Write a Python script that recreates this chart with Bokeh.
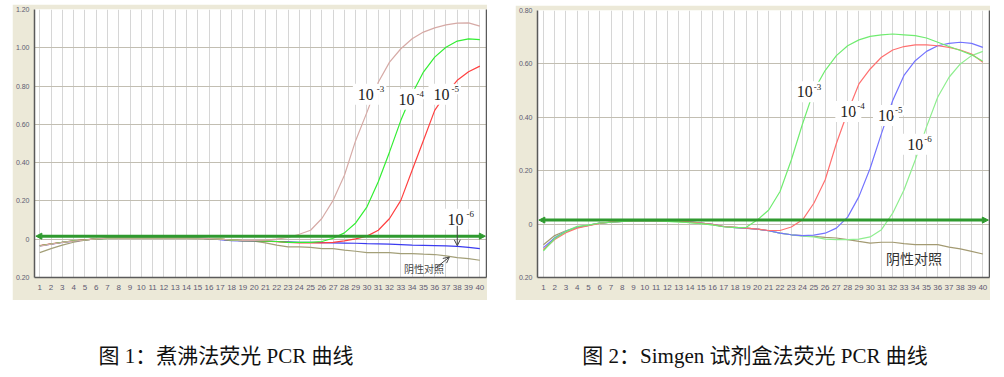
from bokeh.plotting import figure
from bokeh.models import (FixedTicker, CustomJSTickFormatter, Label, Arrow, NormalHead,
                          OpenHead, LinearAxis, Range1d, Div)
from bokeh.layouts import row, column
from bokeh.embed import file_html
from bokeh.resources import INLINE

cycles = list(range(1, 41))

# ---- Figure 1 (boiling method) ----
l_e3 = [-0.036, -0.026, -0.017, -0.010, -0.004, 0.002, 0.005, 0.006, 0.006, 0.006,
        0.006, 0.006, 0.006, 0.006, 0.005, 0.003, 0.000, -0.004, -0.006, -0.006,
        -0.005, 0.000, 0.009, 0.026, 0.047, 0.108, 0.203, 0.334, 0.516, 0.664,
        0.820, 0.925, 0.995, 1.047, 1.082, 1.104, 1.120, 1.129, 1.130, 1.113]
l_e4 = [-0.034, -0.025, -0.016, -0.009, -0.004, 0.002, 0.004, 0.005, 0.006, 0.006,
        0.006, 0.006, 0.006, 0.005, 0.005, 0.003, 0.000, -0.005, -0.007, -0.008,
        -0.010, -0.012, -0.016, -0.017, -0.017, -0.012, 0.005, 0.033, 0.085, 0.169,
        0.300, 0.456, 0.621, 0.760, 0.873, 0.951, 1.003, 1.035, 1.047, 1.043]
l_e5 = [-0.033, -0.024, -0.016, -0.009, -0.003, 0.002, 0.006, 0.006, 0.006, 0.006,
        0.006, 0.006, 0.006, 0.006, 0.005, 0.003, 0.000, -0.005, -0.007, -0.008,
        -0.010, -0.013, -0.016, -0.019, -0.019, -0.019, -0.017, -0.009, 0.002, 0.016,
        0.047, 0.108, 0.203, 0.360, 0.516, 0.673, 0.760, 0.830, 0.875, 0.904]
l_e6 = [-0.035, -0.026, -0.017, -0.010, -0.004, 0.002, 0.005, 0.006, 0.006, 0.006,
        0.006, 0.004, 0.005, 0.006, 0.006, 0.003, -0.002, -0.008, -0.009, -0.009,
        -0.010, -0.012, -0.014, -0.016, -0.017, -0.018, -0.019, -0.020, -0.021, -0.023,
        -0.024, -0.026, -0.028, -0.031, -0.032, -0.033, -0.035, -0.037, -0.043, -0.049]
l_neg = [-0.070, -0.049, -0.031, -0.016, -0.005, 0.003, 0.004, 0.005, 0.005, 0.005,
         0.005, 0.005, 0.004, 0.004, 0.003, 0.002, 0.000, -0.005, -0.007, -0.010,
         -0.019, -0.031, -0.040, -0.040, -0.043, -0.049, -0.049, -0.057, -0.063, -0.070,
         -0.070, -0.070, -0.075, -0.075, -0.078, -0.080, -0.087, -0.096, -0.101, -0.110]
l_threshold = 0.016

# ---- Figure 2 (Simgen kit) ----
r_e3 = [-0.100, -0.055, -0.028, -0.010, -0.004, 0.004, 0.007, 0.010, 0.012, 0.012,
        0.012, 0.010, 0.008, 0.005, 0.002, -0.003, -0.010, -0.013, -0.012, 0.016,
        0.053, 0.122, 0.240, 0.376, 0.500, 0.575, 0.631, 0.668, 0.690, 0.703,
        0.709, 0.712, 0.709, 0.706, 0.697, 0.681, 0.665, 0.650, 0.634, 0.610]
r_e4 = [-0.095, -0.058, -0.032, -0.015, -0.006, 0.003, 0.008, 0.010, 0.012, 0.012,
        0.012, 0.011, 0.010, 0.008, 0.004, -0.001, -0.009, -0.012, -0.015, -0.019,
        -0.024, -0.024, -0.011, 0.016, 0.078, 0.165, 0.302, 0.420, 0.525, 0.581,
        0.625, 0.652, 0.665, 0.671, 0.671, 0.668, 0.662, 0.652, 0.637, 0.606]
r_e5 = [-0.088, -0.052, -0.027, -0.012, -0.005, 0.004, 0.007, 0.010, 0.012, 0.012,
        0.012, 0.011, 0.011, 0.009, 0.004, -0.001, -0.009, -0.013, -0.016, -0.019,
        -0.025, -0.034, -0.040, -0.043, -0.041, -0.034, -0.015, 0.026, 0.103, 0.209,
        0.339, 0.463, 0.557, 0.612, 0.647, 0.668, 0.677, 0.681, 0.677, 0.662]
r_e6 = [-0.098, -0.050, -0.026, -0.008, -0.004, 0.004, 0.007, 0.010, 0.012, 0.012,
        0.012, 0.010, 0.008, 0.005, 0.002, -0.003, -0.010, -0.012, -0.015, -0.019,
        -0.025, -0.034, -0.040, -0.045, -0.048, -0.056, -0.058, -0.058, -0.056, -0.048,
        -0.021, 0.041, 0.128, 0.240, 0.364, 0.476, 0.550, 0.600, 0.631, 0.647]
r_neg = [-0.077, -0.043, -0.025, -0.012, -0.005, 0.004, 0.007, 0.010, 0.012, 0.012,
         0.012, 0.011, 0.010, 0.007, 0.004, -0.001, -0.009, -0.012, -0.015, -0.019,
         -0.025, -0.034, -0.040, -0.043, -0.046, -0.050, -0.052, -0.058, -0.065, -0.071,
         -0.068, -0.068, -0.073, -0.077, -0.077, -0.077, -0.086, -0.093, -0.102, -0.112]
r_threshold = 0.015

y_ticks_left = [-0.2, 0.0, 0.2, 0.4, 0.6, 0.8, 1.0, 1.2]
y_ticks_right = [-0.2, 0.0, 0.2, 0.4, 0.6, 0.8]

caption_left = "图 1：煮沸法荧光 PCR 曲线"
caption_right = "图 2：Simgen 试剂盒法荧光 PCR 曲线"

BEIGE = "#ece9d8"
DARK = "#5a5a5a"
TICKCOL = "#5e5a72"
SERIF = "Liberation Serif"


def make_fig(xr, yr, yticks, margin, height, left_b, bottom_b):
    p = figure(width=475, height=height, x_range=Range1d(*xr), y_range=Range1d(*yr),
               output_backend="svg", toolbar_location=None, margin=margin,
               min_border_left=left_b, min_border_right=1, min_border_top=5,
               min_border_bottom=bottom_b)
    p.border_fill_color = BEIGE
    p.background_fill_color = "white"
    p.outline_line_color = None
    xa = p.xaxis[0]
    xa.ticker = FixedTicker(ticks=cycles)
    xa.major_tick_out = 0
    xa.major_tick_in = 0
    xa.minor_tick_out = 0
    xa.minor_tick_in = 0
    xa.major_label_standoff = 7
    xa.major_label_text_font = "Liberation Sans"
    xa.major_label_text_font_size = "8px"
    xa.major_label_text_color = TICKCOL
    xa.axis_line_color = DARK
    xa.axis_line_width = 1.5
    ya = p.yaxis[0]
    ya.ticker = FixedTicker(ticks=yticks)
    ya.formatter = CustomJSTickFormatter(
        code="return Math.abs(tick) < 1e-9 ? '0' : Math.abs(tick).toFixed(2);")
    ya.major_tick_out = 0
    ya.major_tick_in = 0
    ya.minor_tick_out = 0
    ya.minor_tick_in = 0
    ya.major_label_standoff = 5
    ya.major_label_text_font = "Liberation Sans"
    ya.major_label_text_font_size = "7px"
    ya.major_label_text_color = TICKCOL
    ya.axis_line_color = DARK
    ya.axis_line_width = 1.5
    p.xgrid.ticker = FixedTicker(ticks=cycles)
    p.xgrid.grid_line_color = "#d6d6d6"
    p.ygrid.ticker = FixedTicker(ticks=yticks)
    p.ygrid.grid_line_color = "#c2beb2"
    ra = LinearAxis(ticker=FixedTicker(ticks=[]), major_label_text_font_size="0px",
                    major_tick_out=0, major_tick_in=0, minor_tick_out=0, minor_tick_in=0,
                    major_label_standoff=0, axis_line_color=DARK, axis_line_width=1.5)
    p.add_layout(ra, "right")
    return p


def threshold(p, xr, y):
    p.add_layout(Arrow(x_start=xr[0] + 0.12, y_start=y, x_end=xr[1] - 0.1, y_end=y,
                       line_color="#2f9a2f", line_width=3,
                       start=NormalHead(size=6, fill_color="#2f9a2f", line_color="#2f9a2f"),
                       end=NormalHead(size=6, fill_color="#2f9a2f", line_color="#2f9a2f")))


def exp_label(p, x, y, exp, size=16, sup_dx=11, sup_dy=5):
    p.add_layout(Label(x=x, y=y, text="10", text_font=SERIF, text_font_size=f"{size}px",
                       text_align="center", text_baseline="middle", text_color="#222222",
                       background_fill_color="white", padding=5))
    p.add_layout(Label(x=x, y=y, x_offset=sup_dx, y_offset=sup_dy, text=exp, text_font=SERIF,
                       text_font_size=f"{int(size * 0.62)}px", text_align="left",
                       text_baseline="middle", text_color="#222222",
                       background_fill_color="white", padding=2))


# ---------- Left chart ----------
lxr = (0.535, 40.59)
p1 = make_fig(lxr, (-0.2, 1.2), y_ticks_left, (4, 0, 0, 12), 296, 17, 23)
p1.line(cycles, l_neg, line_color="#a39f78", line_width=1.2)
p1.line(cycles, l_e6, line_color="#3a3af0", line_width=1.2)
p1.line(cycles, l_e5, line_color="#ff4040", line_width=1.2)
p1.line(cycles, l_e4, line_color="#33ee33", line_width=1.2)
p1.line(cycles, l_e3, line_color="#d6aaa6", line_width=1.2)
threshold(p1, lxr, l_threshold)
exp_label(p1, 29.9, 0.757, "-3", sup_dx=9)
exp_label(p1, 33.5, 0.731, "-4", sup_dx=8)
exp_label(p1, 36.6, 0.757, "-5", sup_dx=8)
exp_label(p1, 37.85, 0.104, "-6", sup_dx=9)
p1.add_layout(Arrow(x_start=38.0, y_start=0.07, x_end=38.0, y_end=-0.034,
                    line_color="#444444", line_width=1,
                    end=OpenHead(size=6, line_color="#444444", line_width=1)))
p1.add_layout(Label(x=35.05, y=-0.151, text="阴性对照", text_font="Noto Sans CJK SC",
                    text_font_size="10px", text_align="center", text_baseline="middle",
                    text_color="#444444"))
p1.add_layout(Arrow(x_start=36.1, y_start=-0.15, x_end=37.3, y_end=-0.093,
                    line_color="#444444", line_width=1,
                    end=OpenHead(size=6, line_color="#444444", line_width=1)))

# ---------- Right chart ----------
rxr = (0.475, 40.59)
p2 = make_fig(rxr, (-0.2, 0.8), y_ticks_right, (5, 0, 0, 28), 295, 16, 22)
p2.line(cycles, r_neg, line_color="#a39a72", line_width=1.2)
p2.line(cycles, r_e6, line_color="#8fee8f", line_width=1.2)
p2.line(cycles, r_e5, line_color="#7373ff", line_width=1.2)
p2.line(cycles, r_e4, line_color="#ff7070", line_width=1.2)
p2.line(cycles, r_e3, line_color="#70ec70", line_width=1.2)
threshold(p2, rxr, r_threshold)
exp_label(p2, 24.2, 0.496, "-3", sup_dx=7)
exp_label(p2, 28.06, 0.422, "-4", sup_dx=7)
exp_label(p2, 31.4, 0.407, "-5", sup_dx=7)
exp_label(p2, 34.0, 0.299, "-6", sup_dx=7)
p2.add_layout(Label(x=33.9, y=-0.127, text="阴性对照", text_font="Noto Sans CJK SC",
                    text_font_size="14px", text_align="center", text_baseline="middle",
                    text_color="#333333"))

cap_style = {"font-family": "'Liberation Serif', 'Noto Sans CJK SC', serif",
             "font-size": "21px", "line-height": "24px", "text-align": "center",
             "color": "#111111", "width": "452px", "white-space": "nowrap"}
cap1 = Div(text=caption_left, width=452, height=24, margin=(44, 0, 0, 0), styles=cap_style)
cap2 = Div(text=caption_right, width=452, height=24, margin=(44, 0, 0, 77), styles=cap_style)

layout = column(row(p1, p2), row(cap1, cap2))

with open("out.html", "w") as f:
    f.write(file_html(layout, INLINE))
